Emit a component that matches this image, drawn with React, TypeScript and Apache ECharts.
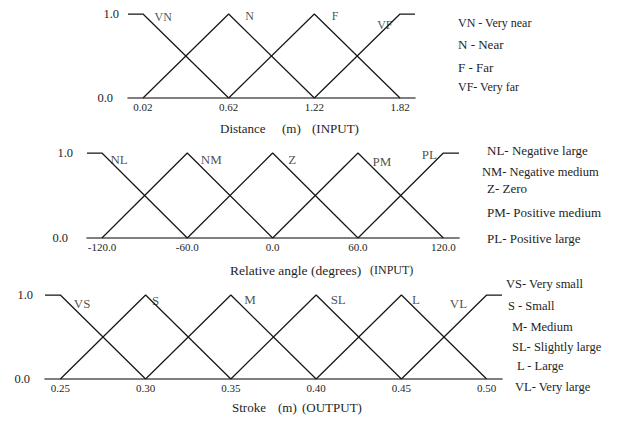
import React, { useEffect, useRef } from 'react';
import * as echarts from 'echarts';

// ---------- Data ----------
// Panel 1: Distance (m) (INPUT)
const distanceTicks = [0.02, 0.62, 1.22, 1.82];
const distanceRange = [-0.085, 1.925];
const distanceSets = [
  { name: 'VN', points: [[-0.085, 1], [0.02, 1], [0.62, 0]] },
  { name: 'N', points: [[0.02, 0], [0.62, 1], [1.22, 0]] },
  { name: 'F', points: [[0.62, 0], [1.22, 1], [1.82, 0]] },
  { name: 'VF', points: [[1.22, 0], [1.82, 1], [1.925, 1]] },
];
const distanceLegend = ['VN - Very near', 'N - Near', 'F - Far', 'VF- Very far'];
const distanceTitle = ['Distance', '(m)', '(INPUT)'];

// Panel 2: Relative angle (degrees) (INPUT)
const angleTicks = [-120, -60, 0, 60, 120];
const angleRange = [-130.5, 131];
const angleSets = [
  { name: 'NL', points: [[-130.5, 1], [-120, 1], [-60, 0]] },
  { name: 'NM', points: [[-120, 0], [-60, 1], [0, 0]] },
  { name: 'Z', points: [[-60, 0], [0, 1], [60, 0]] },
  { name: 'PM', points: [[0, 0], [60, 1], [120, 0]] },
  { name: 'PL', points: [[60, 0], [120, 1], [131, 1]] },
];
const angleLegend = ['NL- Negative large', 'NM- Negative medium', 'Z- Zero', 'PM- Positive medium', 'PL- Positive large'];
const angleTitle = ['Relative angle (degrees)', '(INPUT)'];

// Panel 3: Stroke (m) (OUTPUT)
const strokeTicks = [0.25, 0.3, 0.35, 0.4, 0.45, 0.5];
const strokeRange = [0.241, 0.509];
const strokeSets = [
  { name: 'VS', points: [[0.241, 1], [0.25, 1], [0.3, 0]] },
  { name: 'S', points: [[0.25, 0], [0.3, 1], [0.35, 0]] },
  { name: 'M', points: [[0.3, 0], [0.35, 1], [0.4, 0]] },
  { name: 'SL', points: [[0.35, 0], [0.4, 1], [0.45, 0]] },
  { name: 'L', points: [[0.4, 0], [0.45, 1], [0.5, 0]] },
  { name: 'VL', points: [[0.45, 0], [0.5, 1], [0.509, 1]] },
];
const strokeLegend = ['VS- Very small', 'S - Small', 'M- Medium', 'SL- Slightly large', 'L - Large', 'VL- Very large'];
const strokeTitle = ['Stroke', '(m)', '(OUTPUT)'];

const membershipRange = [0, 1];

// ---------- Layout / style ----------
const FONT = '"Liberation Serif", "Times New Roman", serif';
const TEXT = '#1e1e1e';
const LINE = '#161616';

const panels = [
  {
    ticks: distanceTicks, range: distanceRange, sets: distanceSets, decimals: 2,
    grid: { left: 128, top: 14, width: 287, height: 84 },
    yMargin: 9, zeroPad: 6, setFont: 12,
    setLabel: [[11, 3, 'right'], [16, 2, 'right'], [17, 2, 'right'], [-7, 11, 'left']],
    legend: distanceLegend,
    legendX: [458, 458, 458, 458], legendY: [23, 44, 67, 87], legendSize: [12, 13, 13, 12],
    title: distanceTitle, titleX: [220, 282, 312], titleY: 128, titleSize: [13, 13, 13],
  },
  {
    ticks: angleTicks, range: angleRange, sets: angleSets, decimals: 1,
    grid: { left: 87, top: 153, width: 372, height: 85 },
    yMargin: 14, zeroPad: 5, setFont: 13,
    setLabel: [[8, 6, 'right'], [13, 6, 'right'], [15, 6, 'right'], [14, 8, 'right'], [-6, 1, 'left']],
    legend: angleLegend,
    legendX: [487, 482, 487, 487, 487], legendY: [150, 172, 188, 212, 238], legendSize: [13, 12.5, 13, 13, 13],
    title: angleTitle, titleX: [230, 370], titleY: 270, titleSize: [13.5, 12],
  },
  {
    ticks: strokeTicks, range: strokeRange, sets: strokeSets, decimals: 2,
    grid: { left: 45, top: 295, width: 457, height: 84 },
    yMargin: 12, zeroPad: 3, setFont: 13,
    setLabel: [[13, 8, 'right'], [6, 5, 'right'], [13, 4, 'right'], [14, 4, 'right'], [10, 4, 'right'], [-19, 8, 'left']],
    legend: strokeLegend,
    legendX: [506, 508, 512, 512, 517, 515], legendY: [284, 306, 327, 347, 366, 387], legendSize: [12.5, 12.5, 12.5, 12.5, 12.5, 12.5],
    title: strokeTitle, titleX: [232, 278, 302], titleY: 407, titleSize: [13, 13, 13],
  },
];

function buildOption() {
  const grid: any[] = [];
  const xAxis: any[] = [];
  const yAxis: any[] = [];
  const series: any[] = [];
  const graphic: any[] = [];

  panels.forEach((p, i) => {
    grid.push({ ...p.grid, containLabel: false });
    xAxis.push({
      type: 'value', gridIndex: i, min: p.range[0], max: p.range[1],
      axisLine: { show: true, lineStyle: { color: '#555555', width: 1.6 } },
      axisTick: { show: false },
      splitLine: { show: false },
      axisLabel: {
        customValues: p.ticks,
        formatter: (v: number) => v.toFixed(p.decimals),
        margin: 3, fontSize: 11, fontFamily: FONT, color: TEXT,
      },
    });
    yAxis.push({
      type: 'value', gridIndex: i, min: membershipRange[0], max: membershipRange[1], interval: 1,
      axisLine: { show: false }, axisTick: { show: false }, splitLine: { show: false },
      axisLabel: {
        margin: p.yMargin,
        formatter: (v: number) => (v === 0 ? `{z|${v.toFixed(1)}}` : `{o|${v.toFixed(1)}}`),
        rich: {
          z: { fontSize: 12.5, fontFamily: FONT, color: TEXT, padding: [0, p.zeroPad, 0, 0] },
          o: { fontSize: 12.5, fontFamily: FONT, color: TEXT },
        },
      },
    });
    p.sets.forEach((s) => {
      series.push({
        type: 'line', name: s.name, xAxisIndex: i, yAxisIndex: i,
        data: s.points, showSymbol: false, clip: false, silent: true,
        lineStyle: { color: LINE, width: 1.25 },
      });
    });
    series.push({
      type: 'scatter', xAxisIndex: i, yAxisIndex: i, silent: true,
      symbolSize: 1, itemStyle: { color: 'rgba(0,0,0,0)' },
      data: p.sets.map((s, k) => ({
        value: s.points[1], name: s.name,
        label: {
          show: true, formatter: s.name,
          position: p.setLabel[k][2], distance: 0,
          offset: [p.setLabel[k][0], p.setLabel[k][1]],
          fontSize: p.setFont, fontFamily: FONT, color: TEXT,
        },
      })),
    });
    p.legend.forEach((t, k) => {
      graphic.push({
        type: 'text', x: p.legendX[k], y: p.legendY[k], silent: true,
        style: { text: t, fontSize: p.legendSize[k], fontFamily: FONT, fill: TEXT, verticalAlign: 'middle' },
      });
    });
    p.title.forEach((t, k) => {
      graphic.push({
        type: 'text', x: p.titleX[k], y: p.titleY, silent: true,
        style: { text: t, fontSize: p.titleSize[k], fontFamily: FONT, fill: TEXT, verticalAlign: 'middle' },
      });
    });
  });

  return { animation: false, backgroundColor: '#ffffff', grid, xAxis, yAxis, series, graphic };
}

export default function App() {
  const ref = useRef<HTMLDivElement>(null);
  useEffect(() => {
    if (!ref.current) return;
    const chart = echarts.init(ref.current, undefined, { renderer: 'svg' });
    chart.setOption(buildOption() as any);
    return () => chart.dispose();
  }, []);
  return (
    <div
      ref={ref}
      style={{ position: 'fixed', left: 0, top: 0, width: 618, height: 425, background: '#fff' }}
    />
  );
}
